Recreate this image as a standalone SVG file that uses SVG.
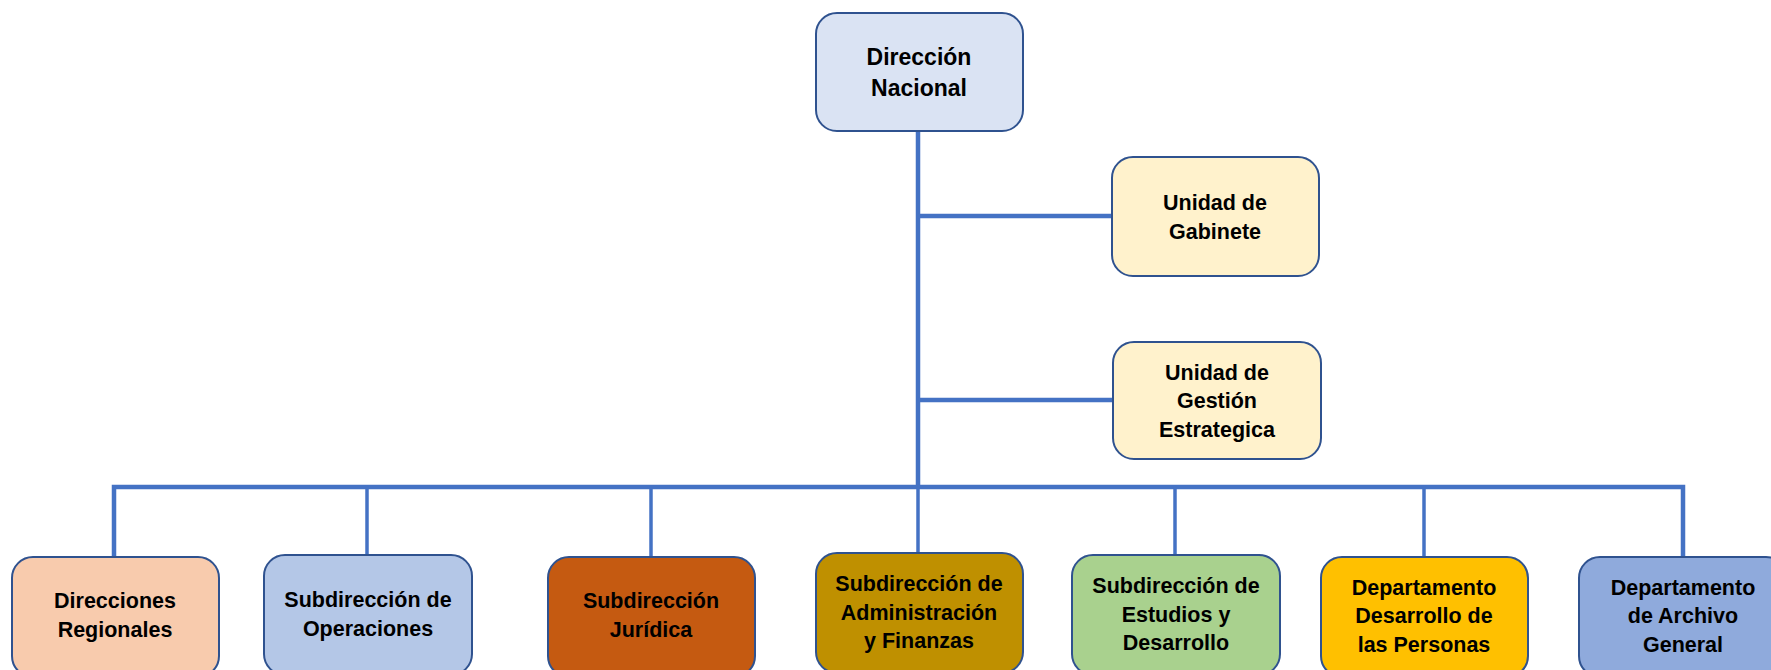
<svg xmlns="http://www.w3.org/2000/svg" width="1771" height="670" viewBox="0 0 1771 670">
  <style>
    .box { stroke: #2F528F; stroke-width: 2; }
    .lbl { font-family: "Liberation Sans", Arial, sans-serif; font-weight: bold; fill: #000; text-anchor: middle; }
    .sm { font-size: 21.5px; }
    .lg { font-size: 23px; }
    .wire { stroke: #4472C4; fill: none; }
    .trunk { stroke-width: 4.5; }
    .bus { stroke-width: 4.5; }
    .stem { stroke-width: 3.5; }
  </style>
  <rect width="1771" height="670" fill="#ffffff"/>

  <!-- connectors -->
  <g id="connectors" class="wire">
    <line class="trunk" x1="918" y1="131" x2="918" y2="489"/>
    <line class="trunk" x1="918" y1="216" x2="1112" y2="216"/>
    <line class="trunk" x1="918" y1="400" x2="1113" y2="400"/>
    <polyline class="bus" points="114,557 114,487 1683,487 1683,557"/>
    <line class="stem" x1="367" y1="487" x2="367" y2="555"/>
    <line class="stem" x1="651" y1="487" x2="651" y2="557"/>
    <line class="stem" x1="918" y1="487" x2="918" y2="553"/>
    <line class="stem" x1="1175" y1="487" x2="1175" y2="555"/>
    <line class="stem" x1="1424" y1="487" x2="1424" y2="557"/>
  </g>

  <!-- top level -->
  <g id="direccion-nacional">
    <rect class="box" x="816" y="13" width="207" height="118" rx="21" fill="#DAE3F3"/>
    <text class="lbl lg" x="919" y="65">Dirección</text>
    <text class="lbl lg" x="919" y="96">Nacional</text>
  </g>

  <!-- staff units -->
  <g id="unidad-gabinete">
    <rect class="box" x="1112" y="157" width="207" height="119" rx="21" fill="#FFF2CC"/>
    <text class="lbl sm" x="1215" y="210">Unidad de</text>
    <text class="lbl sm" x="1215" y="239">Gabinete</text>
  </g>
  <g id="unidad-gestion">
    <rect class="box" x="1113" y="342" width="208" height="117" rx="21" fill="#FFF2CC"/>
    <text class="lbl sm" x="1217" y="380">Unidad de</text>
    <text class="lbl sm" x="1217" y="408">Gestión</text>
    <text class="lbl sm" x="1217" y="437">Estrategica</text>
  </g>

  <!-- operating units -->
  <g id="direcciones-regionales">
    <rect class="box" x="12" y="557" width="207" height="120" rx="21" fill="#F8CBAD"/>
    <text class="lbl sm" x="115" y="608">Direcciones</text>
    <text class="lbl sm" x="115" y="637">Regionales</text>
  </g>
  <g id="subdireccion-operaciones">
    <rect class="box" x="264" y="555" width="208" height="120" rx="21" fill="#B4C7E7"/>
    <text class="lbl sm" x="368" y="607">Subdirección de</text>
    <text class="lbl sm" x="368" y="636">Operaciones</text>
  </g>
  <g id="subdireccion-juridica">
    <rect class="box" x="548" y="557" width="207" height="120" rx="21" fill="#C55A11"/>
    <text class="lbl sm" x="651" y="608">Subdirección</text>
    <text class="lbl sm" x="651" y="637">Jurídica</text>
  </g>
  <g id="subdireccion-administracion">
    <rect class="box" x="816" y="553" width="207" height="120" rx="21" fill="#BF9000"/>
    <text class="lbl sm" x="919" y="591">Subdirección de</text>
    <text class="lbl sm" x="919" y="620">Administración</text>
    <text class="lbl sm" x="919" y="648">y Finanzas</text>
  </g>
  <g id="subdireccion-estudios">
    <rect class="box" x="1072" y="555" width="208" height="120" rx="21" fill="#A9D18E"/>
    <text class="lbl sm" x="1176" y="593">Subdirección de</text>
    <text class="lbl sm" x="1176" y="622">Estudios y</text>
    <text class="lbl sm" x="1176" y="650">Desarrollo</text>
  </g>
  <g id="departamento-personas">
    <rect class="box" x="1321" y="557" width="207" height="120" rx="21" fill="#FFC000"/>
    <text class="lbl sm" x="1424" y="595">Departamento</text>
    <text class="lbl sm" x="1424" y="623">Desarrollo de</text>
    <text class="lbl sm" x="1424" y="652">las Personas</text>
  </g>
  <g id="departamento-archivo">
    <rect class="box" x="1579" y="557" width="208" height="120" rx="21" fill="#8FAADC"/>
    <text class="lbl sm" x="1683" y="595">Departamento</text>
    <text class="lbl sm" x="1683" y="623">de Archivo</text>
    <text class="lbl sm" x="1683" y="652">General</text>
  </g>
</svg>
